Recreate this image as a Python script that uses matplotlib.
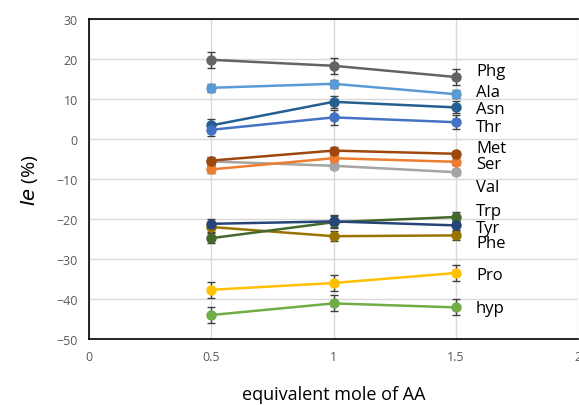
import matplotlib
matplotlib.use("Agg")
import matplotlib.pyplot as plt

x = [0.5, 1.0, 1.5]
names = ["Phg", "Ala", "Asn", "Thr", "Met", "Ser", "Val", "Trp", "Tyr", "Phe", "Pro", "hyp"]
Phg = [19.8, 18.3, 15.5]
Ala = [12.8, 13.8, 11.2]
Asn = [3.4, 9.3, 7.9]
Thr = [2.3, 5.4, 4.2]
Met = [-5.4, -2.9, -3.7]
Ser = [-7.6, -4.8, -5.7]
Val = [-5.6, -6.7, -8.3]
Trp = [-24.8, -20.8, -19.5]
Tyr = [-21.2, -20.6, -21.6]
Phe = [-22.0, -24.3, -24.1]
Pro = [-37.7, -36.0, -33.5]
hyp = [-44.0, -41.1, -42.1]
Phg_err = [2.0, 2.0, 2.0]
Ala_err = [1.0, 1.0, 1.0]
Asn_err = [1.5, 1.5, 1.5]
Thr_err = [1.5, 1.8, 1.8]
Met_err = [0.8, 0.8, 0.8]
Ser_err = [0.8, 0.8, 0.8]
Val_err = [0.8, 0.8, 0.8]
Trp_err = [1.2, 1.5, 1.2]
Tyr_err = [1.2, 1.5, 1.2]
Phe_err = [1.2, 1.2, 1.2]
Pro_err = [2.0, 2.0, 2.0]
hyp_err = [2.0, 2.0, 2.0]
label_y = [17, 11.8, 7.5, 3.0, -2.3, -6.3, -12.0, -18.0, -22.3, -26.0, -34.0, -42.3]

series = [Phg, Ala, Asn, Thr, Met, Ser, Val, Trp, Tyr, Phe, Pro, hyp]
errs = [Phg_err, Ala_err, Asn_err, Thr_err, Met_err, Ser_err, Val_err, Trp_err, Tyr_err, Phe_err, Pro_err, hyp_err]
colors = ["#636363", "#5B9BD5", "#255E91", "#4472C4", "#9E480E", "#ED7D31", "#A5A5A5",
          "#43682B", "#264478", "#997300", "#FFC000", "#70AD47"]
# draw order: Val behind Met
order = [6, 0, 1, 2, 3, 5, 4, 9, 7, 8, 10, 11]

plt.rcParams['font.family'] = ['Open Sans', 'DejaVu Sans']
fig = plt.figure(figsize=(5.79, 4.06), dpi=100)
ax = fig.add_axes([89/579, 1-340/406, (578-89)/579, 320/406])

for i in order:
    ax.errorbar(x, series[i], yerr=errs[i], color=colors[i], lw=1.8, marker='o', ms=6.5,
                ecolor='#404040', elinewidth=1, capsize=3, capthick=1, zorder=3)

for n, ly in zip(names, label_y):
    ax.text(1.583, ly, n, fontsize=12, va='center', ha='left', color='black')

ax.set_xlim(0, 2)
ax.set_ylim(-50, 30)
ax.set_xticks([0, 0.5, 1, 1.5, 2])
ax.set_xticklabels(["0", "0.5", "1", "1.5", "2"])
ax.set_yticks(range(-50, 31, 10))
ax.grid(True, color='#D9D9D9', lw=1)
ax.set_axisbelow(True)
ax.tick_params(length=0, labelsize=9, labelcolor='#595959', pad=8)
for s in ['left', 'bottom', 'top']:
    ax.spines[s].set_color('black')
    ax.spines[s].set_linewidth(1.2)
ax.spines['right'].set_visible(False)

ax.set_xlabel("equivalent mole of AA", fontsize=13, labelpad=16)
ax.set_ylabel(r"$\it{Ie}$ (%)", fontsize=14, labelpad=12)

fig.savefig("out.png", dpi=100)
